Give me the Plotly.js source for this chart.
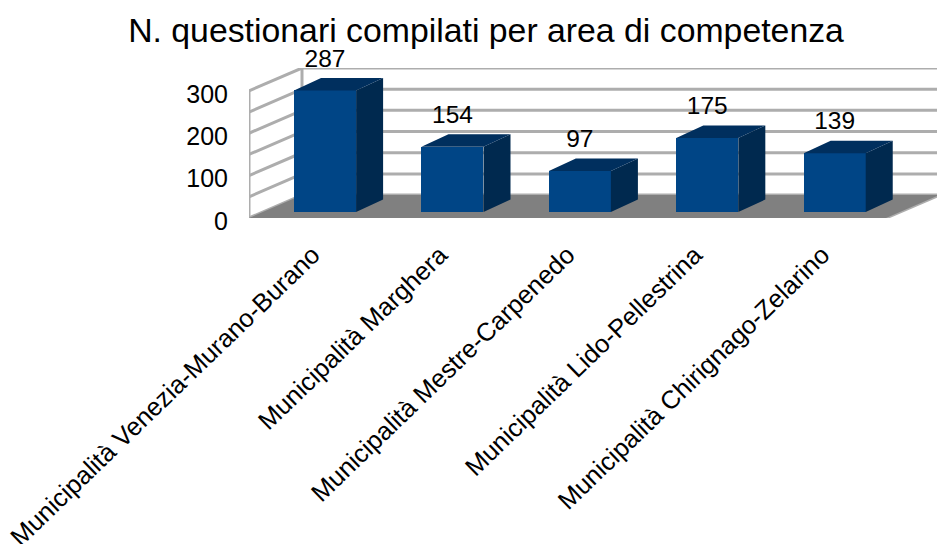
<!DOCTYPE html>
<html>
<head>
<meta charset="utf-8">
<script src="https://cdn.plot.ly/plotly-3.0.1.min.js"></script>
<style>html,body{margin:0;padding:0;background:#fff;overflow:hidden}</style>
</head>
<body>
<div id="chart" style="width:938px;height:544px"></div>
<script>
const categories = ["Municipalità Venezia-Murano-Burano","Municipalità Marghera","Municipalità Mestre-Carpenedo","Municipalità Lido-Pellestrina","Municipalità Chirignago-Zelarino"];
const values = [287,154,97,175,139];
const gridValues = [0,50,100,150,200,250,300];
const yTicks = [0,100,200,300];
const positions = [0,1,2,3,4];

const FONT = "Liberation Sans, Arial, sans-serif";
const wallDx = 0.416, wallDy = 54;
const xL = -0.5, xR = 4.5;
const barShift = 0.097, barLift = 14, barW = 0.487, barDx = 0.212, barDy = 29.5, labelLift = 42;
const gridColor = "#adadad";

function seg(x0,y0,x1,y1){return {type:"line",xref:"x",yref:"y",layer:"below",x0,y0,x1,y1,line:{color:gridColor,width:3}};}
const shapes = [];
gridValues.forEach(g=>{
  shapes.push(seg(xL,g,xL+wallDx,g+wallDy));
  shapes.push(seg(xL+wallDx,g+wallDy,xR+wallDx,g+wallDy));
});
shapes.push(seg(xL,0,xL,300));
shapes.push(seg(xL+wallDx,wallDy,xL+wallDx,300+wallDy));
shapes.push(seg(xR+wallDx,wallDy,xR+wallDx,300+wallDy));
shapes.push(seg(xL,0,xR,0));
shapes.push(seg(xR,0,xR+wallDx,wallDy));
shapes.push({type:"path",xref:"x",yref:"y",layer:"below",
  path:`M${xL},0 L${xR},0 L${xR+wallDx},${wallDy} L${xL+wallDx},${wallDy} Z`,
  fillcolor:"#808080",line:{width:0}});

const sideX=[],sideY=[],topX=[],topY=[];
positions.forEach((p,i)=>{
  const r=p+barShift+barW/2, l=p+barShift-barW/2, t=values[i]+barLift;
  sideX.push(r,r+barDx,r+barDx,r,r,null);
  sideY.push(barLift,barLift+barDy,t+barDy,t,barLift,null);
  topX.push(l,l+barDx,r+barDx,r,l,null);
  topY.push(t,t+barDy,t+barDy,t,t,null);
});

const traces = [
 {type:"bar",x:positions.map(p=>p+barShift),y:values,base:barLift,width:barW,
  marker:{color:"#004586",line:{width:0}},hoverinfo:"skip",showlegend:false},
 {type:"scatter",mode:"lines",x:sideX,y:sideY,fill:"toself",fillcolor:"#00294f",line:{width:0,color:"#00294f"},hoverinfo:"skip",showlegend:false},
 {type:"scatter",mode:"lines",x:topX,y:topY,fill:"toself",fillcolor:"#002f5e",line:{width:0,color:"#002f5e"},hoverinfo:"skip",showlegend:false},
 {type:"scatter",mode:"text",x:positions.map(p=>p+barShift),y:values.map(v=>v+barLift+labelLift),
  text:values.map(String),textposition:"top center",textfont:{family:FONT,size:24.5,color:"#000"},
  cliponaxis:false,hoverinfo:"skip",showlegend:false}
];

const layout = {
  width:938,height:544,autosize:false,
  margin:{l:249,r:1,t:68,b:326,pad:0},
  paper_bgcolor:"#fff",plot_bgcolor:"#fff",
  showlegend:false,bargap:0,
  title:{text:"N. questionari compilati per area di competenza",font:{family:FONT,size:33.8,color:"#000"},
    x:486/938,xanchor:"center",y:1-30/544,yanchor:"middle"},
  xaxis:{range:[-0.5,4.9],tickmode:"array",tickvals:positions,ticktext:categories,tickangle:-44,
    tickfont:{family:FONT,size:25.5,color:"#000"},showgrid:false,zeroline:false,showline:false,
    ticks:"outside",ticklen:11,tickcolor:"rgba(0,0,0,0)",automargin:false},
  yaxis:{range:[0,354],tickmode:"array",tickvals:yTicks,ticktext:yTicks.map(String),
    tickfont:{family:FONT,size:25,color:"#000"},showgrid:false,zeroline:false,showline:false,
    ticks:"outside",ticklen:15,tickcolor:"rgba(0,0,0,0)",ticklabelshift:3,automargin:false},
  shapes
};
Plotly.newPlot("chart",traces,layout,{displayModeBar:false,staticPlot:true});
</script>
</body>
</html>
